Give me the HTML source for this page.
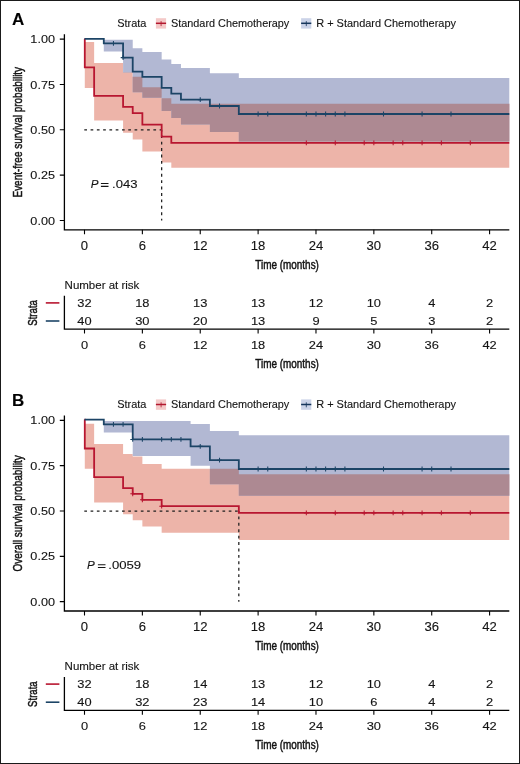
<!DOCTYPE html>
<html><head><meta charset="utf-8"><title>KM</title>
<style>html,body{margin:0;padding:0;background:#fff;}svg{display:block;will-change:transform;}
text{font-family:"Liberation Sans",sans-serif;stroke:#141414;stroke-width:0.12px;}</style></head>
<body>
<svg width="520" height="764" viewBox="0 0 520 764" font-family="'Liberation Sans', sans-serif">
<rect width="520" height="764" fill="#fff"/>
<g transform="translate(0,0.00)">
<text x="12.0" y="25.3" font-size="17" font-weight="bold" fill="#000">A</text>
<text x="117.2" y="26.8" font-size="11" textLength="29.2" lengthAdjust="spacingAndGlyphs" fill="#141414">Strata</text>
<rect x="155.9" y="18.2" width="10.2" height="10.4" fill="#F4C9C8"/>
<path d="M155.9 23.3H166.1" stroke="#B3182F" stroke-width="1.5"/>
<path d="M161.1 21.1V26.1" stroke="#B3182F" stroke-width="0.8"/>
<text x="171.0" y="26.8" font-size="11" textLength="118.3" lengthAdjust="spacingAndGlyphs" fill="#141414">Standard Chemotherapy</text>
<rect x="301.1" y="18.2" width="10.2" height="10.4" fill="#CBD3E8"/>
<path d="M301.1 23.3H311.3" stroke="#16365C" stroke-width="1.5"/>
<path d="M306.3 21.1V26.1" stroke="#16365C" stroke-width="0.8"/>
<text x="316.2" y="26.8" font-size="11" textLength="139.8" lengthAdjust="spacingAndGlyphs" fill="#141414">R + Standard Chemotherapy</text>
<path d="M84.79 42.10L94.14 42.10L94.14 63.00L123.08 63.00L123.08 72.30L132.72 72.30L132.72 76.70L142.37 76.70L142.37 87.30L161.66 87.30L161.66 98.30L171.31 98.30L171.31 103.80L509.30 103.80L509.30 167.80L171.31 167.80L171.31 162.60L161.66 162.60L161.66 151.60L142.37 151.60L142.37 139.40L132.72 139.40L132.72 132.70L123.08 132.70L123.08 120.60L94.14 120.60L94.14 88.00L84.79 88.00Z" fill="#EDB4A9"/>
<path d="M103.79 39.80L123.08 39.80L123.08 39.80L132.72 39.80L132.72 48.20L142.37 48.20L142.37 52.00L161.66 52.00L161.66 59.60L171.31 59.60L171.31 64.00L180.95 64.00L180.95 68.10L209.88 68.10L209.88 73.20L238.82 73.20L238.82 78.10L509.30 78.10L509.30 141.50L238.82 141.50L238.82 131.90L209.88 131.90L209.88 124.50L180.95 124.50L180.95 117.90L171.31 117.90L171.31 111.00L161.66 111.00L161.66 97.70L142.37 97.70L142.37 92.30L132.72 92.30L132.72 72.60L123.08 72.60L123.08 51.60L103.79 51.60Z" fill="#B2B8D3"/>
<path d="M123.08 72.30H132.73V72.60H123.08ZM132.72 76.70H142.38V92.30H132.72ZM142.37 87.30H161.67V97.70H142.37ZM161.66 98.30H171.31V111.00H161.66ZM171.31 103.80H180.96V117.90H171.31ZM180.95 103.80H209.89V124.50H180.95ZM209.88 103.80H238.83V131.90H209.88ZM238.82 103.80H509.31V141.50H238.82Z" fill="#AD8992"/>
<path d="M84.3 129.80H161.66" stroke="#1e1e1e" stroke-width="1.25" stroke-dasharray="2.7 3.58" fill="none"/>
<path d="M161.66 129.80V220.6" stroke="#1e1e1e" stroke-width="1.25" stroke-dasharray="2.9 3.52" stroke-dashoffset="1" fill="none"/>
<path d="M84.50 38.90H84.79V67.40H94.14V95.80H123.08V106.90H132.72V113.10H142.37V124.70H161.66V136.60H171.31V142.80H509.30" stroke="#B81630" stroke-width="1.8" fill="none"/>
<path d="M84.50 38.90H103.79V43.40H123.08V57.60H132.72V71.60H142.37V76.90H161.66V87.90H171.31V93.70H180.95V99.70H209.88V106.00H238.82V114.00H509.30" stroke="#1C4466" stroke-width="1.8" fill="none"/>
<path d="M306.33 140.40V145.20M303.94 142.80H308.73M335.27 140.40V145.20M332.87 142.80H337.67M364.20 140.40V145.20M361.81 142.80H366.60M373.85 140.40V145.20M371.45 142.80H376.25M393.14 140.40V145.20M390.74 142.80H395.54M402.78 140.40V145.20M400.38 142.80H405.18M422.07 140.40V145.20M419.68 142.80H424.47M441.37 140.40V145.20M438.97 142.80H443.76M470.30 140.40V145.20M467.90 142.80H472.70" stroke="#B81630" stroke-width="1.05" fill="none"/>
<path d="M113.44 41.00V45.80M111.03 43.40H115.84M123.08 55.20V60.00M120.68 57.60H125.48M200.24 97.30V102.10M197.84 99.70H202.64M219.53 103.60V108.40M217.13 106.00H221.93M258.11 111.60V116.40M255.71 114.00H260.51M267.75 111.60V116.40M265.36 114.00H270.15M306.33 111.60V116.40M303.94 114.00H308.73M315.98 111.60V116.40M313.58 114.00H318.38M325.62 111.60V116.40M323.23 114.00H328.02M335.27 111.60V116.40M332.87 114.00H337.67M344.91 111.60V116.40M342.51 114.00H347.31M383.50 111.60V116.40M381.10 114.00H385.89M422.07 111.60V116.40M419.68 114.00H424.47M451.01 111.60V116.40M448.61 114.00H453.41" stroke="#1C4466" stroke-width="1.05" fill="none"/>
<path d="M64.4 34.3V229.8H509.3" stroke="#000000" stroke-width="1.3" fill="none"/>
<text x="55.00" y="43.25" font-size="11.6" text-anchor="end" textLength="24.61" lengthAdjust="spacingAndGlyphs" fill="#141414">1.00</text>
<text x="55.00" y="88.57" font-size="11.6" text-anchor="end" textLength="24.61" lengthAdjust="spacingAndGlyphs" fill="#141414">0.75</text>
<text x="55.00" y="133.90" font-size="11.6" text-anchor="end" textLength="24.61" lengthAdjust="spacingAndGlyphs" fill="#141414">0.50</text>
<text x="55.00" y="179.23" font-size="11.6" text-anchor="end" textLength="24.61" lengthAdjust="spacingAndGlyphs" fill="#141414">0.25</text>
<text x="55.00" y="224.55" font-size="11.6" text-anchor="end" textLength="24.61" lengthAdjust="spacingAndGlyphs" fill="#141414">0.00</text>
<text x="84.50" y="250.00" font-size="12.0" text-anchor="middle" textLength="7.27" lengthAdjust="spacingAndGlyphs" fill="#141414">0</text>
<text x="142.37" y="250.00" font-size="12.0" text-anchor="middle" textLength="7.27" lengthAdjust="spacingAndGlyphs" fill="#141414">6</text>
<text x="200.24" y="250.00" font-size="12.0" text-anchor="middle" textLength="14.55" lengthAdjust="spacingAndGlyphs" fill="#141414">12</text>
<text x="258.11" y="250.00" font-size="12.0" text-anchor="middle" textLength="14.55" lengthAdjust="spacingAndGlyphs" fill="#141414">18</text>
<text x="315.98" y="250.00" font-size="12.0" text-anchor="middle" textLength="14.55" lengthAdjust="spacingAndGlyphs" fill="#141414">24</text>
<text x="373.85" y="250.00" font-size="12.0" text-anchor="middle" textLength="14.55" lengthAdjust="spacingAndGlyphs" fill="#141414">30</text>
<text x="431.72" y="250.00" font-size="12.0" text-anchor="middle" textLength="14.55" lengthAdjust="spacingAndGlyphs" fill="#141414">36</text>
<text x="489.59" y="250.00" font-size="12.0" text-anchor="middle" textLength="14.55" lengthAdjust="spacingAndGlyphs" fill="#141414">42</text>
<path d="M59.8 39.15H64.3M59.8 84.47H64.3M59.8 129.80H64.3M59.8 175.13H64.3M59.8 220.45H64.3M84.50 229.8V234.3M142.37 229.8V234.3M200.24 229.8V234.3M258.11 229.8V234.3M315.98 229.8V234.3M373.85 229.8V234.3M431.72 229.8V234.3M489.59 229.8V234.3" stroke="#000000" stroke-width="1.1"/>
<text x="287.1" y="269.3" font-size="12.6" text-anchor="middle" textLength="63.6" lengthAdjust="spacingAndGlyphs" fill="#141414" style="stroke-width:0.5px">Time (months)</text>
<text transform="translate(22.4,132.20) rotate(-90)" font-size="13.6" text-anchor="middle" textLength="130.6" lengthAdjust="spacingAndGlyphs" fill="#141414" style="stroke-width:0.5px">Event-free survival probability</text>
<text x="90.70" y="187.9" font-size="11.6" font-style="italic" fill="#141414">P</text>
<path d="M100.90 183.5H108.50M100.90 186.35H108.50" stroke="#141414" stroke-width="1.05"/>
<text x="112.10" y="187.9" font-size="11.6" textLength="25.40" lengthAdjust="spacingAndGlyphs" fill="#141414">.043</text>
<text x="64.6" y="288.5" font-size="11.5" fill="#141414">Number at risk</text>
<path d="M64.4 295.8V329.1H509.3" stroke="#000000" stroke-width="1.3" fill="none"/>
<text x="84.50" y="349.30" font-size="11.8" text-anchor="middle" textLength="7.15" lengthAdjust="spacingAndGlyphs" fill="#141414">0</text>
<text x="84.50" y="307.10" font-size="11.8" text-anchor="middle" textLength="14.31" lengthAdjust="spacingAndGlyphs" fill="#141414">32</text>
<text x="84.50" y="325.10" font-size="11.8" text-anchor="middle" textLength="14.31" lengthAdjust="spacingAndGlyphs" fill="#141414">40</text>
<text x="142.37" y="349.30" font-size="11.8" text-anchor="middle" textLength="7.15" lengthAdjust="spacingAndGlyphs" fill="#141414">6</text>
<text x="142.37" y="307.10" font-size="11.8" text-anchor="middle" textLength="14.31" lengthAdjust="spacingAndGlyphs" fill="#141414">18</text>
<text x="142.37" y="325.10" font-size="11.8" text-anchor="middle" textLength="14.31" lengthAdjust="spacingAndGlyphs" fill="#141414">30</text>
<text x="200.24" y="349.30" font-size="11.8" text-anchor="middle" textLength="14.31" lengthAdjust="spacingAndGlyphs" fill="#141414">12</text>
<text x="200.24" y="307.10" font-size="11.8" text-anchor="middle" textLength="14.31" lengthAdjust="spacingAndGlyphs" fill="#141414">13</text>
<text x="200.24" y="325.10" font-size="11.8" text-anchor="middle" textLength="14.31" lengthAdjust="spacingAndGlyphs" fill="#141414">20</text>
<text x="258.11" y="349.30" font-size="11.8" text-anchor="middle" textLength="14.31" lengthAdjust="spacingAndGlyphs" fill="#141414">18</text>
<text x="258.11" y="307.10" font-size="11.8" text-anchor="middle" textLength="14.31" lengthAdjust="spacingAndGlyphs" fill="#141414">13</text>
<text x="258.11" y="325.10" font-size="11.8" text-anchor="middle" textLength="14.31" lengthAdjust="spacingAndGlyphs" fill="#141414">13</text>
<text x="315.98" y="349.30" font-size="11.8" text-anchor="middle" textLength="14.31" lengthAdjust="spacingAndGlyphs" fill="#141414">24</text>
<text x="315.98" y="307.10" font-size="11.8" text-anchor="middle" textLength="14.31" lengthAdjust="spacingAndGlyphs" fill="#141414">12</text>
<text x="315.98" y="325.10" font-size="11.8" text-anchor="middle" textLength="7.15" lengthAdjust="spacingAndGlyphs" fill="#141414">9</text>
<text x="373.85" y="349.30" font-size="11.8" text-anchor="middle" textLength="14.31" lengthAdjust="spacingAndGlyphs" fill="#141414">30</text>
<text x="373.85" y="307.10" font-size="11.8" text-anchor="middle" textLength="14.31" lengthAdjust="spacingAndGlyphs" fill="#141414">10</text>
<text x="373.85" y="325.10" font-size="11.8" text-anchor="middle" textLength="7.15" lengthAdjust="spacingAndGlyphs" fill="#141414">5</text>
<text x="431.72" y="349.30" font-size="11.8" text-anchor="middle" textLength="14.31" lengthAdjust="spacingAndGlyphs" fill="#141414">36</text>
<text x="431.72" y="307.10" font-size="11.8" text-anchor="middle" textLength="7.15" lengthAdjust="spacingAndGlyphs" fill="#141414">4</text>
<text x="431.72" y="325.10" font-size="11.8" text-anchor="middle" textLength="7.15" lengthAdjust="spacingAndGlyphs" fill="#141414">3</text>
<text x="489.59" y="349.30" font-size="11.8" text-anchor="middle" textLength="14.31" lengthAdjust="spacingAndGlyphs" fill="#141414">42</text>
<text x="489.59" y="307.10" font-size="11.8" text-anchor="middle" textLength="7.15" lengthAdjust="spacingAndGlyphs" fill="#141414">2</text>
<text x="489.59" y="325.10" font-size="11.8" text-anchor="middle" textLength="7.15" lengthAdjust="spacingAndGlyphs" fill="#141414">2</text>
<path d="M84.50 329.1V333.6M142.37 329.1V333.6M200.24 329.1V333.6M258.11 329.1V333.6M315.98 329.1V333.6M373.85 329.1V333.6M431.72 329.1V333.6M489.59 329.1V333.6" stroke="#000000" stroke-width="1.1"/>
<path d="M45.8 302.9H59.4" stroke="#B81630" stroke-width="1.6"/>
<path d="M45.8 321H59.4" stroke="#1C4466" stroke-width="1.6"/>
<text transform="translate(36.9,312.9) rotate(-90)" font-size="13.4" text-anchor="middle" textLength="25.6" lengthAdjust="spacingAndGlyphs" fill="#141414" style="stroke-width:0.5px">Strata</text>
<text x="287.1" y="368.1" font-size="12.6" text-anchor="middle" textLength="63.6" lengthAdjust="spacingAndGlyphs" fill="#141414" style="stroke-width:0.5px">Time (months)</text>
</g>
<g transform="translate(0,381.20)">
<text x="12.0" y="25.3" font-size="17" font-weight="bold" fill="#000">B</text>
<text x="117.2" y="26.8" font-size="11" textLength="29.2" lengthAdjust="spacingAndGlyphs" fill="#141414">Strata</text>
<rect x="155.9" y="18.2" width="10.2" height="10.4" fill="#F4C9C8"/>
<path d="M155.9 23.3H166.1" stroke="#B3182F" stroke-width="1.5"/>
<path d="M161.1 21.1V26.1" stroke="#B3182F" stroke-width="0.8"/>
<text x="171.0" y="26.8" font-size="11" textLength="118.3" lengthAdjust="spacingAndGlyphs" fill="#141414">Standard Chemotherapy</text>
<rect x="301.1" y="18.2" width="10.2" height="10.4" fill="#CBD3E8"/>
<path d="M301.1 23.3H311.3" stroke="#16365C" stroke-width="1.5"/>
<path d="M306.3 21.1V26.1" stroke="#16365C" stroke-width="0.8"/>
<text x="316.2" y="26.8" font-size="11" textLength="139.8" lengthAdjust="spacingAndGlyphs" fill="#141414">R + Standard Chemotherapy</text>
<path d="M84.79 42.50L94.14 42.50L94.14 62.90L123.08 62.90L123.08 72.80L132.72 72.80L132.72 75.30L142.37 75.30L142.37 82.70L161.66 82.70L161.66 87.50L238.82 87.50L238.82 93.00L509.30 93.00L509.30 158.70L238.82 158.70L238.82 151.60L161.66 151.60L161.66 145.30L142.37 145.30L142.37 139.00L132.72 139.00L132.72 133.00L123.08 133.00L123.08 121.40L94.14 121.40L94.14 87.50L84.79 87.50Z" fill="#EDB4A9"/>
<path d="M103.79 39.80L132.72 39.80L132.72 39.80L190.59 39.80L190.59 42.70L209.88 42.70L209.88 49.70L238.82 49.70L238.82 54.10L509.30 54.10L509.30 114.50L238.82 114.50L238.82 103.00L209.88 103.00L209.88 84.60L190.59 84.60L190.59 74.70L132.72 74.70L132.72 51.30L103.79 51.30Z" fill="#B2B8D3"/>
<path d="M209.88 87.50H238.83V103.00H209.88ZM238.82 93.00H509.31V114.50H238.82Z" fill="#AD8992"/>
<path d="M84.3 129.80H238.82" stroke="#1e1e1e" stroke-width="1.25" stroke-dasharray="2.7 3.58" fill="none"/>
<path d="M238.82 129.80V220.6" stroke="#1e1e1e" stroke-width="1.25" stroke-dasharray="2.9 3.52" stroke-dashoffset="1" fill="none"/>
<path d="M84.50 38.40H84.79V67.30H94.14V95.90H123.08V106.90H132.72V112.60H142.37V118.60H161.66V125.00H238.82V131.70H509.30" stroke="#B81630" stroke-width="1.8" fill="none"/>
<path d="M84.50 38.40H103.79V43.20H132.72V58.20H190.59V65.10H209.88V79.00H238.82V87.80H509.30" stroke="#1C4466" stroke-width="1.8" fill="none"/>
<path d="M132.72 110.20V115.00M130.32 112.60H135.12M142.37 116.20V121.00M139.97 118.60H144.77M161.66 122.60V127.40M159.26 125.00H164.06M306.33 129.30V134.10M303.94 131.70H308.73M335.27 129.30V134.10M332.87 131.70H337.67M364.20 129.30V134.10M361.81 131.70H366.60M373.85 129.30V134.10M371.45 131.70H376.25M393.14 129.30V134.10M390.74 131.70H395.54M402.78 129.30V134.10M400.38 131.70H405.18M422.07 129.30V134.10M419.68 131.70H424.47M441.37 129.30V134.10M438.97 131.70H443.76M470.30 129.30V134.10M467.90 131.70H472.70" stroke="#B81630" stroke-width="1.05" fill="none"/>
<path d="M113.44 40.80V45.60M111.03 43.20H115.84M123.08 40.80V45.60M120.68 43.20H125.48M132.72 55.80V60.60M130.32 58.20H135.12M142.37 55.80V60.60M139.97 58.20H144.77M161.66 55.80V60.60M159.26 58.20H164.06M171.31 55.80V60.60M168.91 58.20H173.71M180.95 55.80V60.60M178.55 58.20H183.35M200.24 62.70V67.50M197.84 65.10H202.64M219.53 76.60V81.40M217.13 79.00H221.93M258.11 85.40V90.20M255.71 87.80H260.51M267.75 85.40V90.20M265.36 87.80H270.15M306.33 85.40V90.20M303.94 87.80H308.73M315.98 85.40V90.20M313.58 87.80H318.38M325.62 85.40V90.20M323.23 87.80H328.02M335.27 85.40V90.20M332.87 87.80H337.67M344.91 85.40V90.20M342.51 87.80H347.31M383.50 85.40V90.20M381.10 87.80H385.89M422.07 85.40V90.20M419.68 87.80H424.47M431.72 85.40V90.20M429.32 87.80H434.12M451.01 85.40V90.20M448.61 87.80H453.41" stroke="#1C4466" stroke-width="1.05" fill="none"/>
<path d="M64.4 34.3V229.8H509.3" stroke="#000000" stroke-width="1.3" fill="none"/>
<text x="55.00" y="43.25" font-size="11.6" text-anchor="end" textLength="24.61" lengthAdjust="spacingAndGlyphs" fill="#141414">1.00</text>
<text x="55.00" y="88.57" font-size="11.6" text-anchor="end" textLength="24.61" lengthAdjust="spacingAndGlyphs" fill="#141414">0.75</text>
<text x="55.00" y="133.90" font-size="11.6" text-anchor="end" textLength="24.61" lengthAdjust="spacingAndGlyphs" fill="#141414">0.50</text>
<text x="55.00" y="179.23" font-size="11.6" text-anchor="end" textLength="24.61" lengthAdjust="spacingAndGlyphs" fill="#141414">0.25</text>
<text x="55.00" y="224.55" font-size="11.6" text-anchor="end" textLength="24.61" lengthAdjust="spacingAndGlyphs" fill="#141414">0.00</text>
<text x="84.50" y="250.00" font-size="12.0" text-anchor="middle" textLength="7.27" lengthAdjust="spacingAndGlyphs" fill="#141414">0</text>
<text x="142.37" y="250.00" font-size="12.0" text-anchor="middle" textLength="7.27" lengthAdjust="spacingAndGlyphs" fill="#141414">6</text>
<text x="200.24" y="250.00" font-size="12.0" text-anchor="middle" textLength="14.55" lengthAdjust="spacingAndGlyphs" fill="#141414">12</text>
<text x="258.11" y="250.00" font-size="12.0" text-anchor="middle" textLength="14.55" lengthAdjust="spacingAndGlyphs" fill="#141414">18</text>
<text x="315.98" y="250.00" font-size="12.0" text-anchor="middle" textLength="14.55" lengthAdjust="spacingAndGlyphs" fill="#141414">24</text>
<text x="373.85" y="250.00" font-size="12.0" text-anchor="middle" textLength="14.55" lengthAdjust="spacingAndGlyphs" fill="#141414">30</text>
<text x="431.72" y="250.00" font-size="12.0" text-anchor="middle" textLength="14.55" lengthAdjust="spacingAndGlyphs" fill="#141414">36</text>
<text x="489.59" y="250.00" font-size="12.0" text-anchor="middle" textLength="14.55" lengthAdjust="spacingAndGlyphs" fill="#141414">42</text>
<path d="M59.8 39.15H64.3M59.8 84.47H64.3M59.8 129.80H64.3M59.8 175.13H64.3M59.8 220.45H64.3M84.50 229.8V234.3M142.37 229.8V234.3M200.24 229.8V234.3M258.11 229.8V234.3M315.98 229.8V234.3M373.85 229.8V234.3M431.72 229.8V234.3M489.59 229.8V234.3" stroke="#000000" stroke-width="1.1"/>
<text x="287.1" y="269.3" font-size="12.6" text-anchor="middle" textLength="63.6" lengthAdjust="spacingAndGlyphs" fill="#141414" style="stroke-width:0.5px">Time (months)</text>
<text transform="translate(22.4,132.20) rotate(-90)" font-size="13.6" text-anchor="middle" textLength="116.3" lengthAdjust="spacingAndGlyphs" fill="#141414" style="stroke-width:0.5px">Overall survival probability</text>
<text x="87.10" y="187.9" font-size="11.6" font-style="italic" fill="#141414">P</text>
<path d="M97.90 183.5H105.50M97.90 186.35H105.50" stroke="#141414" stroke-width="1.05"/>
<text x="108.30" y="187.9" font-size="11.6" textLength="32.80" lengthAdjust="spacingAndGlyphs" fill="#141414">.0059</text>
<text x="64.6" y="288.5" font-size="11.5" fill="#141414">Number at risk</text>
<path d="M64.4 295.8V329.1H509.3" stroke="#000000" stroke-width="1.3" fill="none"/>
<text x="84.50" y="349.30" font-size="11.8" text-anchor="middle" textLength="7.15" lengthAdjust="spacingAndGlyphs" fill="#141414">0</text>
<text x="84.50" y="307.10" font-size="11.8" text-anchor="middle" textLength="14.31" lengthAdjust="spacingAndGlyphs" fill="#141414">32</text>
<text x="84.50" y="325.10" font-size="11.8" text-anchor="middle" textLength="14.31" lengthAdjust="spacingAndGlyphs" fill="#141414">40</text>
<text x="142.37" y="349.30" font-size="11.8" text-anchor="middle" textLength="7.15" lengthAdjust="spacingAndGlyphs" fill="#141414">6</text>
<text x="142.37" y="307.10" font-size="11.8" text-anchor="middle" textLength="14.31" lengthAdjust="spacingAndGlyphs" fill="#141414">18</text>
<text x="142.37" y="325.10" font-size="11.8" text-anchor="middle" textLength="14.31" lengthAdjust="spacingAndGlyphs" fill="#141414">32</text>
<text x="200.24" y="349.30" font-size="11.8" text-anchor="middle" textLength="14.31" lengthAdjust="spacingAndGlyphs" fill="#141414">12</text>
<text x="200.24" y="307.10" font-size="11.8" text-anchor="middle" textLength="14.31" lengthAdjust="spacingAndGlyphs" fill="#141414">14</text>
<text x="200.24" y="325.10" font-size="11.8" text-anchor="middle" textLength="14.31" lengthAdjust="spacingAndGlyphs" fill="#141414">23</text>
<text x="258.11" y="349.30" font-size="11.8" text-anchor="middle" textLength="14.31" lengthAdjust="spacingAndGlyphs" fill="#141414">18</text>
<text x="258.11" y="307.10" font-size="11.8" text-anchor="middle" textLength="14.31" lengthAdjust="spacingAndGlyphs" fill="#141414">13</text>
<text x="258.11" y="325.10" font-size="11.8" text-anchor="middle" textLength="14.31" lengthAdjust="spacingAndGlyphs" fill="#141414">14</text>
<text x="315.98" y="349.30" font-size="11.8" text-anchor="middle" textLength="14.31" lengthAdjust="spacingAndGlyphs" fill="#141414">24</text>
<text x="315.98" y="307.10" font-size="11.8" text-anchor="middle" textLength="14.31" lengthAdjust="spacingAndGlyphs" fill="#141414">12</text>
<text x="315.98" y="325.10" font-size="11.8" text-anchor="middle" textLength="14.31" lengthAdjust="spacingAndGlyphs" fill="#141414">10</text>
<text x="373.85" y="349.30" font-size="11.8" text-anchor="middle" textLength="14.31" lengthAdjust="spacingAndGlyphs" fill="#141414">30</text>
<text x="373.85" y="307.10" font-size="11.8" text-anchor="middle" textLength="14.31" lengthAdjust="spacingAndGlyphs" fill="#141414">10</text>
<text x="373.85" y="325.10" font-size="11.8" text-anchor="middle" textLength="7.15" lengthAdjust="spacingAndGlyphs" fill="#141414">6</text>
<text x="431.72" y="349.30" font-size="11.8" text-anchor="middle" textLength="14.31" lengthAdjust="spacingAndGlyphs" fill="#141414">36</text>
<text x="431.72" y="307.10" font-size="11.8" text-anchor="middle" textLength="7.15" lengthAdjust="spacingAndGlyphs" fill="#141414">4</text>
<text x="431.72" y="325.10" font-size="11.8" text-anchor="middle" textLength="7.15" lengthAdjust="spacingAndGlyphs" fill="#141414">4</text>
<text x="489.59" y="349.30" font-size="11.8" text-anchor="middle" textLength="14.31" lengthAdjust="spacingAndGlyphs" fill="#141414">42</text>
<text x="489.59" y="307.10" font-size="11.8" text-anchor="middle" textLength="7.15" lengthAdjust="spacingAndGlyphs" fill="#141414">2</text>
<text x="489.59" y="325.10" font-size="11.8" text-anchor="middle" textLength="7.15" lengthAdjust="spacingAndGlyphs" fill="#141414">2</text>
<path d="M84.50 329.1V333.6M142.37 329.1V333.6M200.24 329.1V333.6M258.11 329.1V333.6M315.98 329.1V333.6M373.85 329.1V333.6M431.72 329.1V333.6M489.59 329.1V333.6" stroke="#000000" stroke-width="1.1"/>
<path d="M45.8 302.9H59.4" stroke="#B81630" stroke-width="1.6"/>
<path d="M45.8 321H59.4" stroke="#1C4466" stroke-width="1.6"/>
<text transform="translate(36.9,312.9) rotate(-90)" font-size="13.4" text-anchor="middle" textLength="25.6" lengthAdjust="spacingAndGlyphs" fill="#141414" style="stroke-width:0.5px">Strata</text>
<text x="287.1" y="368.1" font-size="12.6" text-anchor="middle" textLength="63.6" lengthAdjust="spacingAndGlyphs" fill="#141414" style="stroke-width:0.5px">Time (months)</text>
</g>
<rect x="0.5" y="0.5" width="519" height="763" fill="none" stroke="#1a1a1a" stroke-width="1"/>
</svg>
</body></html>
